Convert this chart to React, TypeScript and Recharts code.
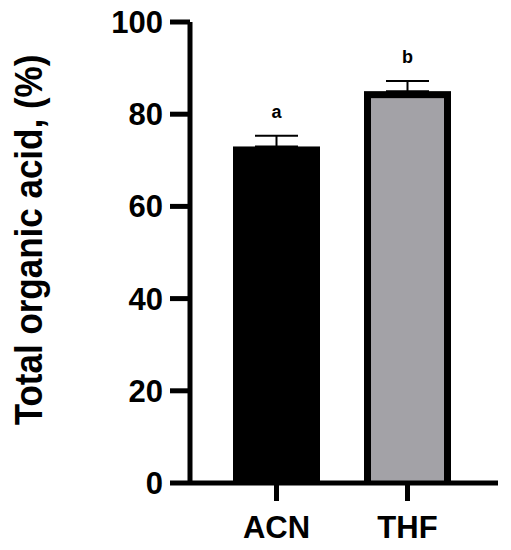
import React from "react";
import { BarChart, Bar, XAxis, YAxis, ErrorBar, LabelList, Label } from "recharts";

const categories = ["ACN", "THF"];
const totalAcid = [73, 85];
const errUp = [2.3, 2.2];
const letters = ["a", "b"];
const yTicks = [0, 20, 40, 60, 80, 100];

const BAR_FILLS = ["#000000", "#a3a2a7"];
const FONT = "'Liberation Sans', Arial, Helvetica, sans-serif";

const data = categories.map((name, i) => ({
  name,
  value: totalAcid[i],
  err: [0, errUp[i]],
  letter: letters[i],
}));

// bar with thick black border drawn inside the rect, like the GraphPad export
const BorderedBar = (props: any) => {
  const { x, y, width, height, index } = props;
  const b = 7;
  return (
    <g>
      <rect x={x} y={y} width={width} height={height} fill="#000" />
      <rect x={x + b} y={y + b} width={Math.max(0, width - 2 * b)} height={Math.max(0, height - b)} fill={BAR_FILLS[index]} />
    </g>
  );
};

const YTitle = (props: any) => {
  const cx = 42;
  const cy = 240;
  return (
    <text
      x={0}
      y={0}
      transform={`translate(${cx}, ${cy}) rotate(-90) scale(1, 1.12)`}
      textAnchor="middle"
      fill="#000"
      fontSize={35}
      fontWeight="bold"
      fontFamily={FONT}
    >
      Total organic acid, (%)
    </text>
  );
};

export default function App() {
  return (
    <div style={{ position: "absolute", left: 0, top: 0, width: 511, height: 550, background: "#fff" }}>
      <BarChart
        width={511}
        height={550}
        data={data}
        margin={{ top: 22, right: 13, bottom: 0, left: 0 }}
        barSize={87}
        style={{ fontFamily: FONT }}
      >
        <XAxis
          dataKey="name"
          height={67}
          padding={{ left: 21, right: 25 }}
          axisLine={{ stroke: "#000", strokeWidth: 5 }}
          tickLine={{ stroke: "#000", strokeWidth: 5 }}
          tickSize={18}
          tickMargin={15}
          tick={{ fill: "#000", fontSize: 31, fontWeight: "bold", fontFamily: FONT }}
        />
        <YAxis
          width={190}
          domain={[0, 100]}
          ticks={yTicks}
          interval={0}
          axisLine={{ stroke: "#000", strokeWidth: 5 }}
          tickLine={{ stroke: "#000", strokeWidth: 5 }}
          tickSize={20}
          tickMargin={7}
          tick={{ fill: "#000", fontSize: 31, fontWeight: "bold", fontFamily: FONT }}
        >
          <Label content={<YTitle />} />
        </YAxis>
        <Bar dataKey="value" shape={<BorderedBar />} isAnimationActive={false}>
          <ErrorBar dataKey="err" width={21.5} stroke="#000" strokeWidth={2} direction="y" />
          <LabelList
            dataKey="letter"
            position="top"
            offset={28}
            fill="#000"
            fontSize={18}
            fontWeight="bold"
            fontFamily={FONT}
          />
        </Bar>
      </BarChart>
    </div>
  );
}
